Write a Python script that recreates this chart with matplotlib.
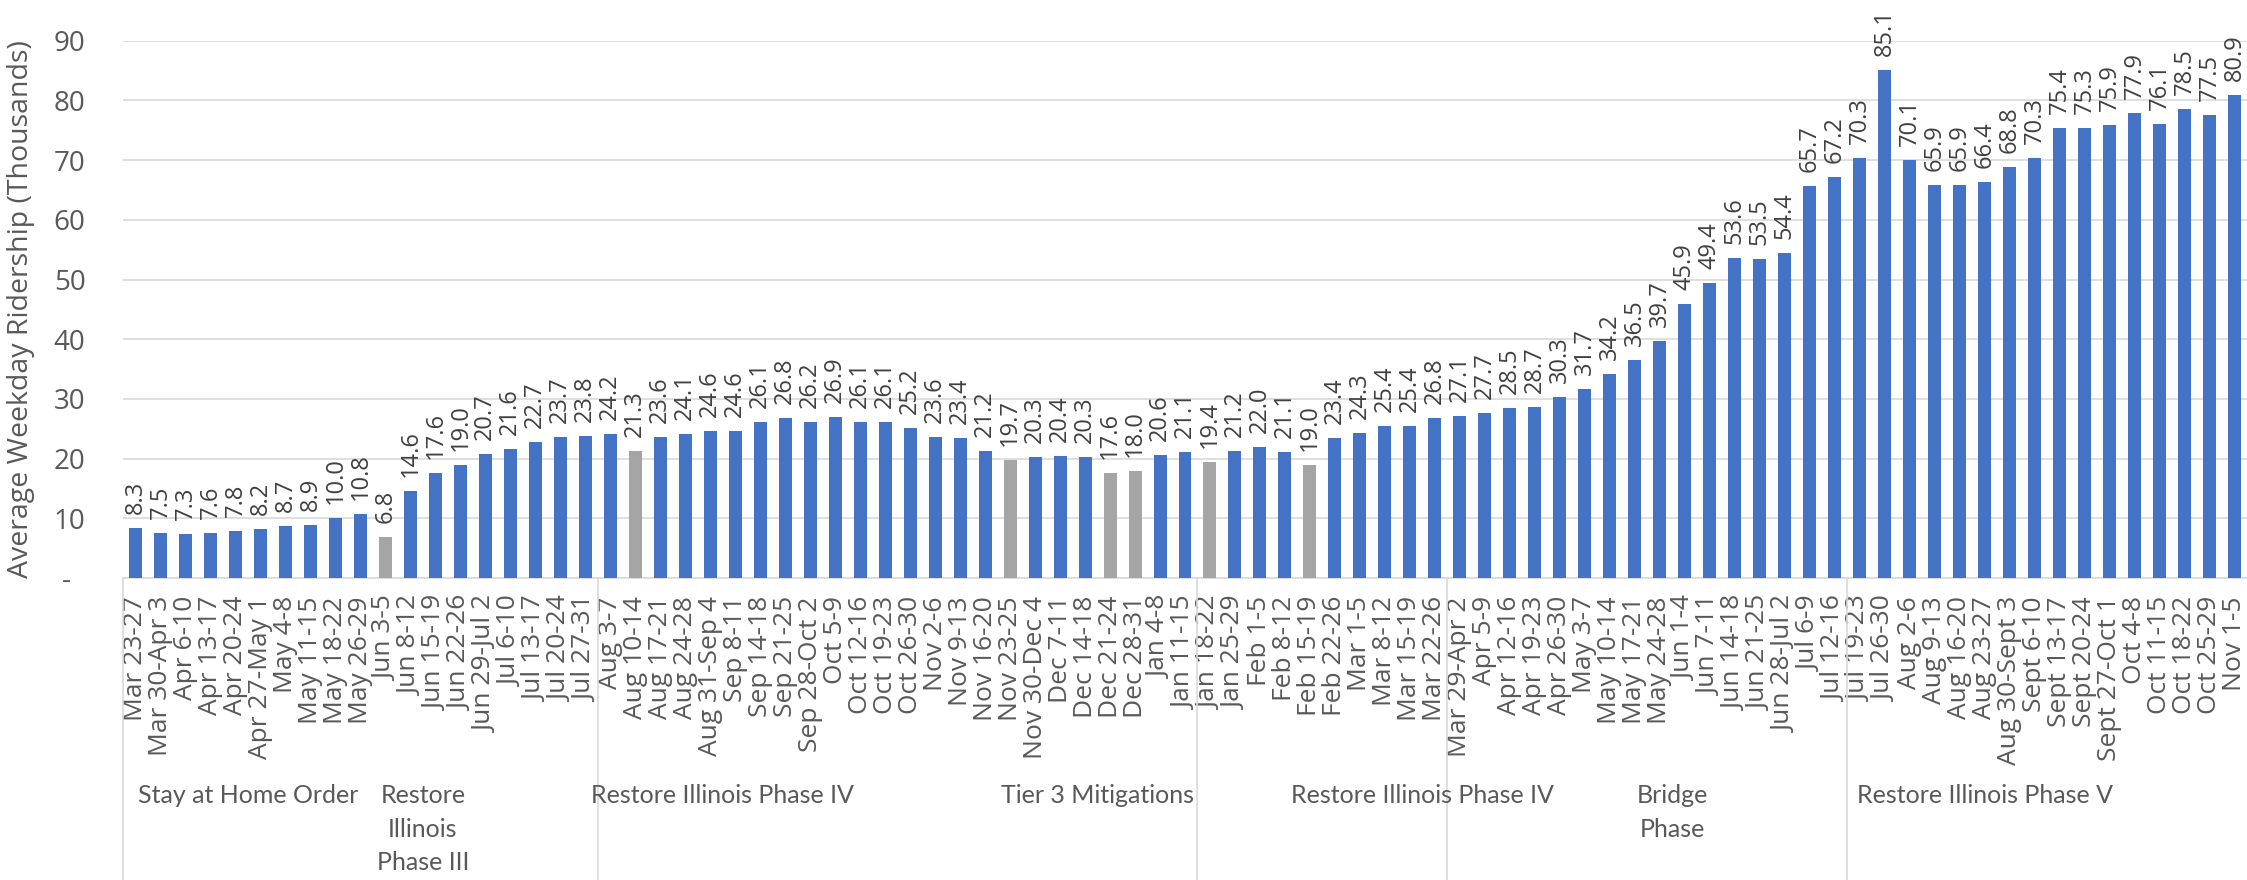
import matplotlib
matplotlib.use("Agg")
import matplotlib.pyplot as plt
from matplotlib.lines import Line2D
from matplotlib.transforms import blended_transform_factory

plt.rcParams['font.family'] = ['Open Sans', 'DejaVu Sans']

categories = [
    "Mar 23-27", "Mar 30-Apr 3", "Apr 6-10", "Apr 13-17", "Apr 20-24", "Apr 27-May 1",
    "May 4-8", "May 11-15", "May 18-22", "May 26-29", "Jun 3-5", "Jun 8-12",
    "Jun 15-19", "Jun 22-26", "Jun 29-Jul 2", "Jul 6-10", "Jul 13-17", "Jul 20-24",
    "Jul 27-31",
    "Aug 3-7", "Aug 10-14", "Aug 17-21", "Aug 24-28", "Aug 31-Sep 4", "Sep 8-11",
    "Sep 14-18", "Sep 21-25", "Sep 28-Oct 2", "Oct 5-9", "Oct 12-16", "Oct 19-23",
    "Oct 26-30", "Nov 2-6", "Nov 9-13", "Nov 16-20", "Nov 23-25", "Nov 30-Dec 4",
    "Dec 7-11", "Dec 14-18", "Dec 21-24", "Dec 28-31", "Jan 4-8", "Jan 11-15",
    "Jan 18-22", "Jan 25-29", "Feb 1-5", "Feb 8-12", "Feb 15-19", "Feb 22-26",
    "Mar 1-5", "Mar 8-12", "Mar 15-19", "Mar 22-26",
    "Mar 29-Apr 2", "Apr 5-9", "Apr 12-16", "Apr 19-23", "Apr 26-30", "May 3-7",
    "May 10-14", "May 17-21", "May 24-28", "Jun 1-4", "Jun 7-11", "Jun 14-18",
    "Jun 21-25", "Jun 28-Jul 2", "Jul 6-9", "Jul 12-16",
    "Jul 19-23", "Jul 26-30", "Aug 2-6", "Aug 9-13", "Aug 16-20", "Aug 23-27",
    "Aug 30-Sept 3", "Sept 6-10", "Sept 13-17", "Sept 20-24", "Sept 27-Oct 1",
    "Oct 4-8", "Oct 11-15", "Oct 18-22", "Oct 25-29", "Nov 1-5",
]

ridership = [
    8.3, 7.5, 7.3, 7.6, 7.8, 8.2, 8.7, 8.9, 10.0, 10.8, 6.8, 14.6,
    17.6, 19.0, 20.7, 21.6, 22.7, 23.7, 23.8,
    24.2, 21.3, 23.6, 24.1, 24.6, 24.6, 26.1, 26.8, 26.2, 26.9, 26.1, 26.1,
    25.2, 23.6, 23.4, 21.2, 19.7, 20.3, 20.4, 20.3, 17.6, 18.0, 20.6, 21.1,
    19.4, 21.2, 22.0, 21.1, 19.0, 23.4, 24.3, 25.4, 25.4, 26.8,
    27.1, 27.7, 28.5, 28.7, 30.3, 31.7, 34.2, 36.5, 39.7, 45.9, 49.4, 53.6,
    53.5, 54.4, 65.7, 67.2,
    70.3, 85.1, 70.1, 65.9, 65.9, 66.4, 68.8, 70.3, 75.4, 75.3, 75.9,
    77.9, 76.1, 78.5, 77.5, 80.9,
]

holiday_weeks = ["Jun 3-5", "Aug 10-14", "Nov 23-25", "Dec 21-24", "Dec 28-31",
                 "Jan 18-22", "Feb 15-19"]

phase_names = ["Stay at Home Order", "Restore\nIllinois\nPhase III",
               "Restore Illinois Phase IV", "Tier 3 Mitigations",
               "Restore Illinois Phase IV", "Bridge\nPhase",
               "Restore Illinois Phase V"]
phase_first = ["Mar 23-27", "Jun 3-5", "Aug 3-7", "Nov 23-25", "Jan 25-29",
               "May 10-14", "Jul 19-23"]
phase_last = ["May 26-29", "Jun 22-26", "Oct 5-9", "Jan 11-15", "May 10-14",
              "Jun 14-18", "Sept 27-Oct 1"]

group_last = ["Jul 27-31", "Jan 11-15", "Mar 22-26", "Jul 12-16"]

BLUE = "#4472C4"
GRAY = "#A5A5A5"
TXT = "#595959"
GRID = "#D9D9D9"

W, H = 2247, 880
fig = plt.figure(figsize=(W / 100, H / 100), dpi=100)
ax = fig.add_axes([123 / W, (H - 578) / H, 2124 / W, 537.3 / H])

xs = list(range(len(categories)))
colors = [GRAY if c in holiday_weeks else BLUE for c in categories]
ax.bar(xs, ridership, width=0.52, color=colors, zorder=3)

for i, v in zip(xs, ridership):
    ax.annotate(f"{v:.1f}", xy=(i, v), xytext=(0, 14), textcoords='offset pixels',
                rotation=90, ha='center', va='bottom', fontsize=17, color='#404040')

ax.set_xlim(-0.5, len(categories) - 0.5)
ax.set_ylim(0, 90)
ax.set_yticks(range(0, 91, 10))
ax.set_yticklabels([''] + [str(v) for v in range(10, 91, 10)])
ax.grid(axis='y', color=GRID, linewidth=1.2, zorder=0)
ax.set_axisbelow(True)
for s in ['top', 'right', 'left']:
    ax.spines[s].set_visible(False)
ax.spines['bottom'].set_color(GRID)
ax.spines['bottom'].set_linewidth(1.2)
ax.tick_params(axis='y', length=0, pad=27, labelsize=20, labelcolor=TXT)
ax.annotate('-', xy=(0, 0), xycoords=('axes fraction', 'data'), xytext=(-57, -3),
            textcoords='offset pixels', ha='center', va='center', fontsize=20, color=TXT)

ax.set_xticks(xs)
ax.set_xticklabels(categories, rotation=90, fontsize=19, color=TXT, va='top', ha='center')
ax.tick_params(axis='x', length=0, pad=13)

ax.set_ylabel("Average Weekday Ridership (Thousands)", fontsize=20.5, color=TXT)
ax.yaxis.set_label_coords(-(123 - 21) / 2124, 0.5)
ax.yaxis.label.set_va('center')

# group dividers
div_tr = blended_transform_factory(ax.transData, ax.transAxes)
bounds = [-0.5] + [categories.index(c) + 0.5 for c in group_last]
for b in bounds:
    ax.add_line(Line2D([b, b], [0, -0.7], transform=div_tr, color=GRID,
                       linewidth=1.2, clip_on=False))

# phase labels (one text per wrapped line)
lab_tr = blended_transform_factory(ax.transData, fig.transFigure)
for name, a, b in zip(phase_names, phase_first, phase_last):
    cx = (categories.index(a) + categories.index(b)) / 2
    for k, line in enumerate(name.split("\n")):
        ax.text(cx, 1 - (803 + 33.5 * k) / H, line, transform=lab_tr, ha='center',
                va='baseline', fontsize=18, color=TXT, family=['Lato', 'DejaVu Sans'])

fig.savefig("out.png", dpi=100)
